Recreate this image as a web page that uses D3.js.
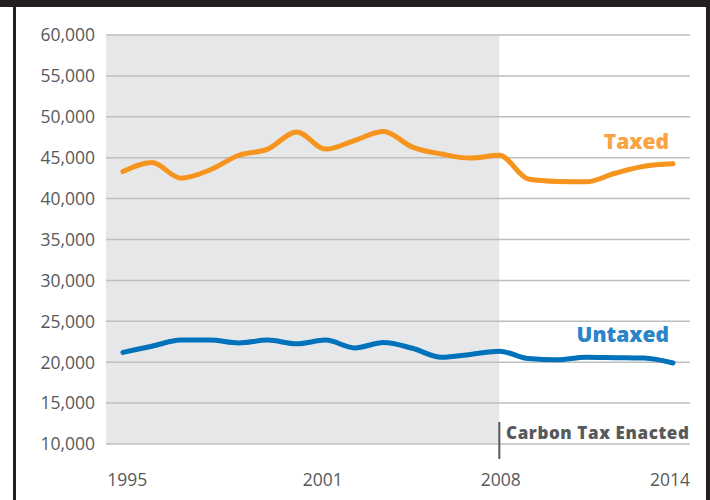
<!DOCTYPE html>
<html>
<head>
<meta charset="utf-8">
<script src="https://cdn.jsdelivr.net/npm/d3@7"></script>
<style>
  body { margin: 0; background: #fff; }
  svg { display: block; font-family: 'Open Sans', sans-serif; }
</style>
</head>
<body>
<div id="chart"></div>
<script>
// data
var years = d3.range(1995, 2015);
var taxed = [43300, 44400, 42500, 43500, 45300, 46050, 48150, 46050, 47100, 48200,
             46300, 45450, 44950, 45300, 42400, 42100, 42050, 43100, 43950, 44250];
var untaxed = [21200, 21950, 22700, 22700, 22350, 22700, 22250, 22700, 21750, 22400,
               21700, 20600, 20950, 21350, 20450, 20300, 20600, 20550, 20500, 19900];
var yTicks = [10000, 15000, 20000, 25000, 30000, 35000, 40000, 45000, 50000, 55000, 60000];
// label positions (in years) as they sit in the original
var xTickPos = [1995.15, 2001.9, 2008.05, 2013.9];
var xTickLabels = ['1995', '2001', '2008', '2014'];
var taxYear = 2008;

var W = 710, H = 500;
var plot = { left: 106, right: 690, top: 35, bottom: 444 };

var svg = d3.select('#chart').append('svg').attr('width', W).attr('height', H);

// frame
svg.append('rect').attr('x', 0).attr('y', 0).attr('width', W).attr('height', 7).attr('fill', '#231f20');
svg.append('rect').attr('x', 13).attr('y', 0).attr('width', 3).attr('height', H).attr('fill', '#231f20');
svg.append('rect').attr('x', 706).attr('y', 0).attr('width', 4).attr('height', H).attr('fill', '#231f20');

var x = d3.scaleLinear().domain([1995, 2014]).range([123, 673]);
var y = d3.scaleLinear().domain([10000, 60000]).range([plot.bottom, plot.top]);

// pre-tax period shading
svg.append('rect')
    .attr('x', plot.left).attr('y', plot.top)
    .attr('width', x(taxYear) - plot.left).attr('height', plot.bottom - plot.top)
    .attr('fill', '#e6e7e8');

// grid
svg.append('g').selectAll('line').data(yTicks).join('line')
    .attr('x1', plot.left).attr('x2', plot.right)
    .attr('y1', function(d) { return y(d); }).attr('y2', function(d) { return y(d); })
    .attr('stroke', '#bcbec0').attr('stroke-width', 1.5);

// y labels
var fmt = d3.format(',');
svg.append('g').selectAll('text').data(yTicks).join('text')
    .attr('x', 95).attr('y', function(d) { return y(d); })
    .attr('dy', '0.36em').attr('text-anchor', 'end')
    .attr('font-size', 17.5).attr('fill', '#58595b')
    .text(function(d) { return fmt(d); });

// x labels
svg.append('g').selectAll('text').data(xTickPos).join('text')
    .attr('x', function(d) { return x(d); }).attr('y', 486)
    .attr('text-anchor', 'middle')
    .attr('font-size', 17.5).attr('fill', '#58595b')
    .text(function(d, i) { return xTickLabels[i]; });

// lines
var line = d3.line()
    .x(function(d, i) { return x(years[i]); })
    .y(function(d) { return y(d); })
    .curve(d3.curveMonotoneX);

svg.append('path').datum(taxed).attr('d', line)
    .attr('fill', 'none').attr('stroke', '#f7941d').attr('stroke-width', 5)
    .attr('stroke-linejoin', 'round').attr('stroke-linecap', 'round');
svg.append('path').datum(untaxed).attr('d', line)
    .attr('fill', 'none').attr('stroke', '#0072bc').attr('stroke-width', 5)
    .attr('stroke-linejoin', 'round').attr('stroke-linecap', 'round');

// series labels
svg.append('text').attr('x', 669).attr('y', 149).attr('text-anchor', 'end')
    .attr('font-size', 21).attr('font-weight', 800).attr('fill', '#f9a343').text('Taxed');
svg.append('text').attr('x', 669).attr('y', 342).attr('text-anchor', 'end')
    .attr('font-size', 21).attr('font-weight', 800).attr('fill', '#2a84c7').text('Untaxed');

// carbon tax marker
svg.append('line')
    .attr('x1', x(taxYear)).attr('x2', x(taxYear)).attr('y1', 422).attr('y2', 459)
    .attr('stroke', '#58595b').attr('stroke-width', 2);
svg.append('text').attr('x', 506).attr('y', 439)
    .attr('font-size', 17).attr('font-weight', 800).attr('letter-spacing', 0.6)
    .attr('fill', '#58595b')
    .text('Carbon Tax Enacted');
</script>
</body>
</html>
